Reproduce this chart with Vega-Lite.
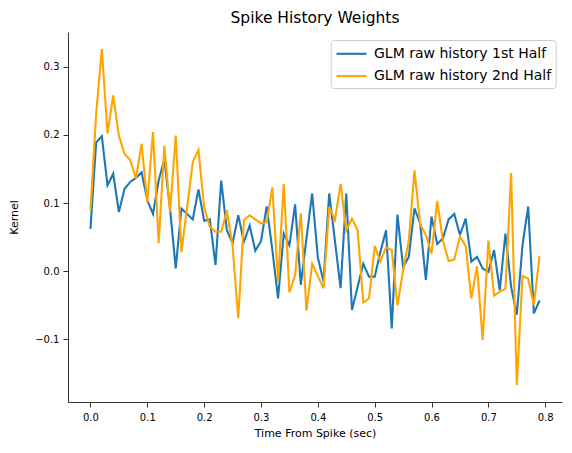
{
  "$schema": "https://vega.github.io/schema/vega-lite/v6.json",
  "description": "Spike history kernel weights from two GLM fits (first and second half of the recording).",
  "autosize": {"type": "none"},
  "padding": {"left": 68, "top": 32, "right": 10, "bottom": 51},
  "width": 494,
  "height": 370,
  "title": {
    "text": "Spike History Weights",
    "font": "DejaVu Sans",
    "fontSize": 15.5,
    "fontWeight": "normal",
    "color": "black",
    "offset": 6
  },
  "datasets": {
    "first": [
      {"t": 0.00, "k": 0.062}, {"t": 0.01, "k": 0.189}, {"t": 0.02, "k": 0.198}, {"t": 0.03, "k": 0.126},
      {"t": 0.04, "k": 0.143}, {"t": 0.05, "k": 0.087}, {"t": 0.06, "k": 0.121}, {"t": 0.07, "k": 0.131},
      {"t": 0.08, "k": 0.137}, {"t": 0.09, "k": 0.145}, {"t": 0.10, "k": 0.104}, {"t": 0.11, "k": 0.084},
      {"t": 0.12, "k": 0.133}, {"t": 0.13, "k": 0.164}, {"t": 0.14, "k": 0.092}, {"t": 0.15, "k": 0.004},
      {"t": 0.16, "k": 0.092}, {"t": 0.17, "k": 0.084}, {"t": 0.18, "k": 0.076}, {"t": 0.19, "k": 0.120},
      {"t": 0.20, "k": 0.074}, {"t": 0.21, "k": 0.076}, {"t": 0.22, "k": 0.009}, {"t": 0.23, "k": 0.133},
      {"t": 0.24, "k": 0.060}, {"t": 0.25, "k": 0.041}, {"t": 0.26, "k": 0.082}, {"t": 0.27, "k": 0.043},
      {"t": 0.28, "k": 0.067}, {"t": 0.29, "k": 0.030}, {"t": 0.30, "k": 0.044}, {"t": 0.31, "k": 0.095},
      {"t": 0.32, "k": 0.031}, {"t": 0.33, "k": -0.040}, {"t": 0.34, "k": 0.055}, {"t": 0.35, "k": 0.038},
      {"t": 0.36, "k": 0.098}, {"t": 0.37, "k": -0.020}, {"t": 0.38, "k": 0.048}, {"t": 0.39, "k": 0.114},
      {"t": 0.40, "k": 0.020}, {"t": 0.41, "k": -0.015}, {"t": 0.42, "k": 0.114}, {"t": 0.43, "k": 0.045},
      {"t": 0.44, "k": -0.025}, {"t": 0.45, "k": 0.114}, {"t": 0.46, "k": -0.057}, {"t": 0.47, "k": -0.023},
      {"t": 0.48, "k": 0.011}, {"t": 0.49, "k": -0.008}, {"t": 0.50, "k": -0.008}, {"t": 0.51, "k": 0.028},
      {"t": 0.52, "k": 0.060}, {"t": 0.53, "k": -0.084}, {"t": 0.54, "k": 0.083}, {"t": 0.55, "k": 0.006},
      {"t": 0.56, "k": 0.021}, {"t": 0.57, "k": 0.092}, {"t": 0.58, "k": 0.070}, {"t": 0.59, "k": -0.013},
      {"t": 0.60, "k": 0.080}, {"t": 0.61, "k": 0.040}, {"t": 0.62, "k": 0.048}, {"t": 0.63, "k": 0.076},
      {"t": 0.64, "k": 0.084}, {"t": 0.65, "k": 0.053}, {"t": 0.66, "k": 0.077}, {"t": 0.67, "k": 0.014},
      {"t": 0.68, "k": 0.021}, {"t": 0.69, "k": 0.004}, {"t": 0.70, "k": -0.001}, {"t": 0.71, "k": 0.031},
      {"t": 0.72, "k": -0.028}, {"t": 0.73, "k": 0.055}, {"t": 0.74, "k": -0.023}, {"t": 0.75, "k": -0.064},
      {"t": 0.76, "k": 0.038}, {"t": 0.77, "k": 0.095}, {"t": 0.78, "k": -0.062}, {"t": 0.79, "k": -0.043}
    ],
    "second": [
      {"t": 0.00, "k": 0.089}, {"t": 0.01, "k": 0.231}, {"t": 0.02, "k": 0.326}, {"t": 0.03, "k": 0.202},
      {"t": 0.04, "k": 0.258}, {"t": 0.05, "k": 0.199}, {"t": 0.06, "k": 0.172}, {"t": 0.07, "k": 0.163},
      {"t": 0.08, "k": 0.136}, {"t": 0.09, "k": 0.187}, {"t": 0.10, "k": 0.101}, {"t": 0.11, "k": 0.204},
      {"t": 0.12, "k": 0.041}, {"t": 0.13, "k": 0.184}, {"t": 0.14, "k": 0.087}, {"t": 0.15, "k": 0.199},
      {"t": 0.16, "k": 0.028}, {"t": 0.17, "k": 0.094}, {"t": 0.18, "k": 0.160}, {"t": 0.19, "k": 0.178},
      {"t": 0.20, "k": 0.094}, {"t": 0.21, "k": 0.065}, {"t": 0.22, "k": 0.058}, {"t": 0.23, "k": 0.058},
      {"t": 0.24, "k": 0.089}, {"t": 0.25, "k": 0.037}, {"t": 0.26, "k": -0.069}, {"t": 0.27, "k": 0.075},
      {"t": 0.28, "k": 0.082}, {"t": 0.29, "k": 0.076}, {"t": 0.30, "k": 0.070}, {"t": 0.31, "k": 0.072},
      {"t": 0.32, "k": 0.123}, {"t": 0.33, "k": -0.015}, {"t": 0.34, "k": 0.128}, {"t": 0.35, "k": -0.031},
      {"t": 0.36, "k": -0.006}, {"t": 0.37, "k": 0.085}, {"t": 0.38, "k": -0.058}, {"t": 0.39, "k": 0.011},
      {"t": 0.40, "k": -0.007}, {"t": 0.41, "k": -0.025}, {"t": 0.42, "k": 0.094}, {"t": 0.43, "k": 0.075},
      {"t": 0.44, "k": 0.128}, {"t": 0.45, "k": 0.060}, {"t": 0.46, "k": 0.077}, {"t": 0.47, "k": 0.060},
      {"t": 0.48, "k": -0.046}, {"t": 0.49, "k": -0.040}, {"t": 0.50, "k": 0.037}, {"t": 0.51, "k": 0.014},
      {"t": 0.52, "k": 0.035}, {"t": 0.53, "k": 0.031}, {"t": 0.54, "k": -0.050}, {"t": 0.55, "k": 0.001},
      {"t": 0.56, "k": 0.045}, {"t": 0.57, "k": 0.148}, {"t": 0.58, "k": 0.069}, {"t": 0.59, "k": 0.053},
      {"t": 0.60, "k": 0.026}, {"t": 0.61, "k": 0.103}, {"t": 0.62, "k": 0.045}, {"t": 0.63, "k": 0.015},
      {"t": 0.64, "k": 0.017}, {"t": 0.65, "k": 0.051}, {"t": 0.66, "k": 0.037}, {"t": 0.67, "k": -0.040},
      {"t": 0.68, "k": 0.007}, {"t": 0.69, "k": -0.101}, {"t": 0.70, "k": 0.045}, {"t": 0.71, "k": -0.036},
      {"t": 0.72, "k": -0.030}, {"t": 0.73, "k": -0.026}, {"t": 0.74, "k": 0.144}, {"t": 0.75, "k": -0.167},
      {"t": 0.76, "k": -0.007}, {"t": 0.77, "k": -0.011}, {"t": 0.78, "k": -0.050}, {"t": 0.79, "k": 0.022}
    ]
  },
  "layer": [
    {
      "mark": {"type": "rule", "color": "#222222", "strokeWidth": 0.8},
      "encoding": {
        "y": {"datum": 0, "type": "quantitative", "scale": {"domain": [-0.192, 0.351], "nice": false, "zero": false}}
      }
    },
    {
      "data": {"name": "first"},
      "mark": {"type": "line", "strokeWidth": 2.1},
      "encoding": {
        "x": {"field": "t", "type": "quantitative"},
        "y": {"field": "k", "type": "quantitative"},
        "color": {"datum": "GLM raw history 1st Half"}
      }
    },
    {
      "data": {"name": "second"},
      "mark": {"type": "line", "strokeWidth": 2.1},
      "encoding": {
        "x": {"field": "t", "type": "quantitative"},
        "y": {"field": "k", "type": "quantitative"},
        "color": {"datum": "GLM raw history 2nd Half"}
      }
    }
  ],
  "encoding": {
    "x": {
      "type": "quantitative",
      "scale": {"domain": [-0.0395, 0.8295], "nice": false, "zero": false},
      "axis": {
        "title": "Time From Spike (sec)",
        "values": [0, 0.1, 0.2, 0.3, 0.4, 0.5, 0.6, 0.7, 0.8],
        "format": ".1f",
        "labelPadding": 5,
        "titlePadding": 5
      }
    },
    "y": {
      "type": "quantitative",
      "scale": {"domain": [-0.192, 0.351], "nice": false, "zero": false},
      "axis": {
        "title": "Kernel",
        "values": [-0.1, 0, 0.1, 0.2, 0.3],
        "format": ".1f",
        "labelPadding": 4,
        "titlePadding": 15
      }
    },
    "color": {
      "type": "nominal",
      "scale": {
        "domain": ["GLM raw history 1st Half", "GLM raw history 2nd Half"],
        "range": ["#1f77b4", "#ffa500"]
      },
      "legend": {
        "title": null,
        "orient": "none",
        "legendX": 262.7,
        "legendY": 8,
        "symbolType": "M-1,0H2.75",
        "symbolSize": 256,
        "symbolStrokeWidth": 2.1,
        "labelFontSize": 14,
        "labelOffset": 20,
        "labelLimit": 300,
        "labelExpr": "datum.label + '   '",
        "rowPadding": 5.3,
        "padding": 4.3,
        "fillColor": "white",
        "strokeColor": "#cccccc",
        "cornerRadius": 3
      }
    }
  },
  "config": {
    "view": {"stroke": null},
    "font": "DejaVu Sans",
    "axis": {
      "grid": false,
      "domainColor": "black",
      "domainWidth": 0.8,
      "tickColor": "black",
      "tickWidth": 0.8,
      "tickSize": 5,
      "labelColor": "black",
      "labelFont": "DejaVu Sans",
      "labelFontSize": 10,
      "titleColor": "black",
      "titleFont": "DejaVu Sans",
      "titleFontSize": 11,
      "titleFontWeight": "normal"
    },
    "legend": {"labelFont": "DejaVu Sans", "labelColor": "black"}
  }
}
